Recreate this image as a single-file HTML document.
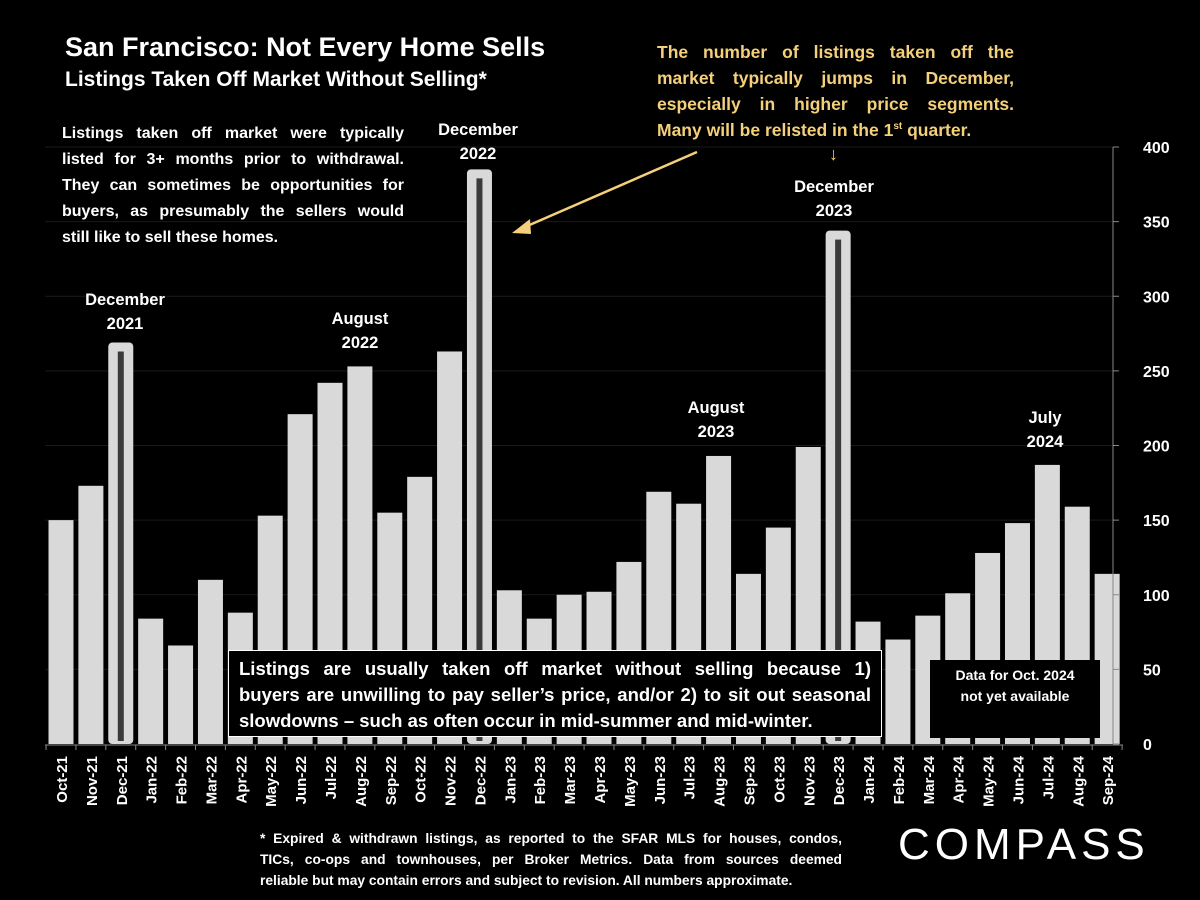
<!DOCTYPE html>
<html><head><meta charset="utf-8"><style>
body{margin:0;background:#000;width:1200px;height:900px;overflow:hidden;font-family:"Liberation Sans",sans-serif;color:#fff}
.t{position:absolute;font-weight:bold}
.j div{text-align:justify;text-align-last:justify;white-space:nowrap}
.j div.l{text-align-last:left}
</style></head><body>
<svg width="1200" height="900" style="position:absolute;left:0;top:0">
<g id="grid"></g><g id="bars"></g><g id="axes"></g>
</svg>
<div class="t" style="left:65px;top:32px;font-size:27px">San Francisco: Not Every Home Sells</div>
<div class="t" style="left:65px;top:68px;font-size:21px">Listings Taken Off Market Without Selling*</div>
<div class="t j" style="left:62px;top:121px;width:342px;font-size:16px;line-height:26px"><div>Listings taken off market were typically</div><div>listed for 3+ months prior to withdrawal.</div><div>They can sometimes be opportunities for</div><div>buyers, as presumably the sellers would</div><div class="l">still like to sell these homes.</div></div>
<div class="t j" style="left:657px;top:39px;width:357px;font-size:17.5px;line-height:26px;color:#f5d07a"><div>The number of listings taken off the</div><div>market typically jumps in December,</div><div>especially in higher price segments.</div><div class="l">Many will be relisted in the 1<sup style="font-size:10px;line-height:0">st</sup> quarter.</div></div>
<div class="t" style="left:829px;top:144px;font-size:18px;color:#f5d07a">↓</div>
<div class="t" style="left:65px;top:288px;width:120px;text-align:center;font-size:16.5px;line-height:24px">December<br>2021</div>
<div class="t" style="left:300px;top:307px;width:120px;text-align:center;font-size:16.5px;line-height:24px">August<br>2022</div>
<div class="t" style="left:418px;top:118px;width:120px;text-align:center;font-size:16.5px;line-height:24px">December<br>2022</div>
<div class="t" style="left:656px;top:396px;width:120px;text-align:center;font-size:16.5px;line-height:24px">August<br>2023</div>
<div class="t" style="left:774px;top:175px;width:120px;text-align:center;font-size:16.5px;line-height:24px">December<br>2023</div>
<div class="t" style="left:985px;top:406px;width:120px;text-align:center;font-size:16.5px;line-height:24px">July<br>2024</div>
<div class="t j" style="left:228px;top:650px;width:632px;height:78px;padding:5px 10px 2px;background:#000;border:1px solid #fff;font-size:18.5px;line-height:26px"><div>Listings are usually taken off market without selling because 1)</div><div>buyers are unwilling to pay seller’s price, and/or 2) to sit out seasonal</div><div class="l">slowdowns – such as often occur in mid-summer and mid-winter.</div></div>
<div class="t" style="left:930px;top:660px;width:170px;height:78px;background:#000;font-size:14px;line-height:21px;text-align:center;padding-top:5px;box-sizing:border-box">Data for Oct. 2024<br>not yet available</div>
<div class="t j" style="left:260px;top:828px;width:582px;font-size:13.8px;line-height:21px"><div>* Expired &amp; withdrawn listings, as reported to the SFAR MLS for houses, condos,</div><div>TICs, co-ops and townhouses, per Broker Metrics. Data from sources deemed</div><div class="l">reliable but may contain errors and subject to revision. All numbers approximate.</div></div>
<div style="position:absolute;left:898px;top:820px;font-size:44px;letter-spacing:5px;color:#fff;font-family:'Liberation Sans',sans-serif">COMPASS</div>
<svg width="1200" height="900" style="position:absolute;left:0;top:0;pointer-events:none">
<line x1="697" y1="152" x2="518" y2="230" stroke="#f5d07a" stroke-width="2.5"/>
<polygon points="512,233 530,219 531,234" fill="#f5d07a"/>
</svg>
<script>
const months=["Oct-21","Nov-21","Dec-21","Jan-22","Feb-22","Mar-22","Apr-22","May-22","Jun-22","Jul-22","Aug-22","Sep-22","Oct-22","Nov-22","Dec-22","Jan-23","Feb-23","Mar-23","Apr-23","May-23","Jun-23","Jul-23","Aug-23","Sep-23","Oct-23","Nov-23","Dec-23","Jan-24","Feb-24","Mar-24","Apr-24","May-24","Jun-24","Jul-24","Aug-24","Sep-24"];
const listings=[150,173,269,84,66,110,88,153,221,242,253,155,179,263,385,103,84,100,102,122,169,161,193,114,145,199,344,82,70,86,101,128,148,187,159,114];
const yTicks=[0,50,100,150,200,250,300,350,400];
const NS="http://www.w3.org/2000/svg";
const y0=744,yScale=597/400,x0=61,step=29.89,bw=25;
const X=i=>x0+i*step, Y=v=>y0-v*yScale;
function mk(t,a,p){const e=document.createElementNS(NS,t);for(const k in a)e.setAttribute(k,a[k]);p.appendChild(e);return e;}
const grid=document.getElementById('grid'),bars=document.getElementById('bars'),axes=document.getElementById('axes');
yTicks.forEach(v=>{
 if(v>0){const g=mk('line',{x1:45,x2:1113,y1:Y(v),y2:Y(v),stroke:'#1a1a1a','stroke-width':1},grid);
 
 }
 mk('line',{x1:1113,x2:1119,y1:Y(v),y2:Y(v),stroke:'#888'},axes);
 const t=mk('text',{x:1143,y:Y(v)+6,fill:'#fff','font-size':16,'font-weight':'bold','font-family':'Liberation Sans, sans-serif'},axes);
 t.textContent=v;
 
 
});
listings.forEach((v,i)=>{
 const isDec=months[i].startsWith('Dec');
 const r=mk('rect',{x:X(i)-bw/2,y:Y(v),width:bw,height:v*yScale,fill:'#d9d9d9',rx:isDec?4:0},bars);
 
 
 if(isDec){mk('rect',{x:X(i)-3,y:Y(v)+9,width:6,height:v*yScale-12,fill:'#3a3a3a'},bars);}
 const t=mk('text',{transform:`translate(${X(i)+6},${y0+12}) rotate(-90)`,'text-anchor':'end',fill:'#fff','font-size':15,'font-weight':'bold','font-family':'Liberation Sans, sans-serif'},axes);
 t.textContent=months[i];
 
 
});
mk('line',{x1:1113,x2:1113,y1:Y(400),y2:y0,stroke:'#888'},axes);
mk('line',{x1:45,x2:1123,y1:y0+1,y2:y0+1,stroke:'#888'},axes);
for(let i=0;i<=months.length;i++)mk('line',{x1:X(i)-step/2,x2:X(i)-step/2,y1:y0+1,y2:y0+6,stroke:'#888'},axes);
</script>
</body></html>
